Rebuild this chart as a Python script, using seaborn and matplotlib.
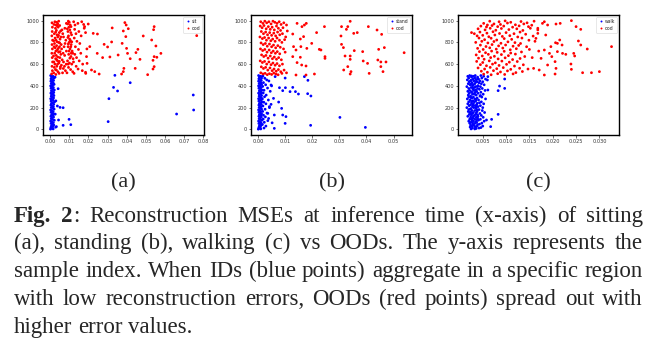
import matplotlib
matplotlib.use("Agg")
import matplotlib.pyplot as plt
import numpy as np
import pandas as pd
import seaborn as sns

# points: (reconstruction MSE x 1e3, sample index)
sit_id = [
    (0.3, 495), (1.5, 488), (0.8, 480), (2.0, 472), (0.5, 465), (1.2, 458), (1.8, 450), (0.4, 443),
    (1.0, 436), (1.6, 428), (0.6, 421), (2.1, 414), (1.3, 407), (0.3, 400), (0.9, 392), (1.7, 385),
    (0.5, 378), (1.4, 370), (2.2, 362), (0.7, 355), (1.1, 348), (1.9, 340), (0.4, 333), (1.5, 326),
    (0.8, 318), (2.0, 311), (0.6, 304), (1.2, 296), (1.8, 289), (0.3, 282), (1.0, 274), (1.6, 267),
    (0.5, 260), (2.3, 252), (1.3, 245), (0.7, 238), (1.9, 230), (0.4, 223), (1.1, 216), (1.7, 208),
    (0.6, 201), (1.4, 194), (2.1, 186), (0.3, 179), (0.9, 172), (1.6, 164), (0.5, 157), (1.2, 150),
    (2.0, 142), (0.8, 135), (1.5, 128), (0.4, 120), (1.8, 113), (1.0, 106), (0.6, 98), (1.3, 91),
    (2.2, 84), (0.3, 76), (0.9, 69), (1.7, 62), (0.5, 54), (1.2, 47), (1.9, 40), (0.7, 32),
    (1.4, 25), (0.4, 18), (1.0, 10), (1.6, 4), (0.2, 2),
    (2.6, 480), (3.0, 262), (2.7, 140), (2.9, 20), (4.2, 374), (3.8, 215), (5.2, 202), (6.8, 199),
    (4.4, 86), (3.3, 25), (9.9, 92), (10.8, 43), (6.8, 37),
    (33.8, 497), (41.8, 429), (33.1, 386), (35.2, 353), (30.7, 282), (30.3, 71), (74.7, 316),
    (74.9, 178), (66.0, 141),
]
sit_ood = [
    (1.0, 980), (1.2, 940), (1.1, 900), (0.9, 860), (1.3, 820), (1.0, 780), (1.2, 740), (0.9, 700),
    (1.1, 660), (1.3, 620), (1.0, 580), (1.2, 540), (0.8, 510),
    (2.5, 990), (3.0, 960), (3.5, 985), (4.0, 970), (4.5, 995), (2.8, 930), (3.3, 910), (4.2, 940),
    (5.0, 955), (2.2, 880), (3.6, 870), (4.8, 890), (5.5, 905), (2.6, 840), (3.1, 820), (4.0, 850),
    (5.2, 830), (2.3, 790), (3.4, 770), (4.5, 800), (5.8, 780), (2.7, 750), (3.8, 730), (4.9, 760),
    (6.0, 740), (2.4, 700), (3.2, 680), (4.4, 710), (5.6, 690), (2.9, 650), (3.9, 630), (5.1, 660),
    (6.3, 640), (2.5, 600), (3.5, 580), (4.6, 610), (5.9, 590), (2.8, 550), (4.1, 530), (5.3, 560),
    (6.5, 520), (3.0, 505), (7.0, 620), (7.5, 580), (8.0, 540), (6.8, 700), (7.3, 760), (8.2, 820),
    (6.6, 880), (7.7, 930), (8.5, 975),
    (2.0, 965), (3.8, 950), (2.9, 895), (4.4, 865), (1.9, 815), (3.7, 805), (5.0, 795), (2.1, 760),
    (4.3, 745), (3.0, 720), (5.2, 715), (1.8, 675), (4.0, 665), (3.4, 640), (4.8, 625), (2.0, 620),
    (3.9, 600), (5.4, 575), (2.2, 570), (3.3, 545), (4.7, 515), (1.9, 520), (5.6, 850), (6.2, 915),
    (7.0, 850), (7.8, 790), (8.5, 720), (7.6, 680), (6.9, 560), (8.4, 600),
    (9.5, 995), (10.0, 985), (10.5, 960), (9.8, 940), (10.3, 915), (9.3, 900), (10.8, 890), (9.6, 860),
    (10.2, 830), (10.6, 810), (9.9, 800), (11.0, 780), (9.4, 760), (10.4, 740), (11.5, 720), (9.7, 690),
    (10.9, 670), (12.0, 650), (9.1, 630), (10.1, 610), (11.3, 600), (9.6, 570), (10.7, 550), (11.8, 530),
    (12.5, 515), (8.8, 520), (9.2, 970), (10.9, 945), (9.0, 925), (11.2, 870), (9.3, 845), (10.5, 820),
    (11.3, 805), (9.5, 785), (10.8, 760), (9.9, 720), (11.0, 700), (10.3, 655), (9.4, 600),
    (12.3, 990), (13.0, 960), (14.5, 975), (16.5, 990), (17.5, 965), (12.8, 920), (13.5, 880), (15.0, 900),
    (16.2, 860), (12.6, 840), (14.0, 810), (15.5, 790), (13.2, 760), (14.8, 735), (16.0, 700), (12.9, 690),
    (13.8, 660), (15.2, 630), (17.0, 600), (13.6, 580), (14.6, 555), (16.8, 540), (18.5, 525), (12.2, 620),
    (11.8, 700), (17.8, 930), (18.5, 890), (19.2, 740),
    (76.5, 862), (54.3, 945), (54.0, 917), (53.0, 822), (55.2, 767), (57.8, 699), (54.3, 669), (55.7, 663),
    (53.7, 635), (54.3, 577), (53.7, 555), (50.9, 503), (46.9, 644), (45.8, 736), (44.8, 706), (44.4, 561),
    (48.6, 859), (39.0, 982), (39.7, 960), (38.2, 905), (40.8, 926), (39.5, 853), (37.6, 791), (39.9, 745),
    (40.4, 699), (41.8, 650), (38.5, 561), (38.2, 531), (37.3, 509), (35.5, 684), (32.4, 933), (32.1, 804),
    (30.0, 758), (28.2, 782), (31.2, 666), (27.4, 660), (25.6, 509), (24.6, 699), (24.7, 877), (22.5, 883),
    (19.9, 969), (18.0, 945), (20.7, 761), (19.0, 669), (21.6, 546), (23.3, 531), (18.6, 515), (19.3, 607),
]

stand_id = [
    (0.2, 495), (1.0, 488), (0.5, 480), (1.3, 472), (0.3, 465), (0.8, 458), (1.2, 450), (0.2, 443),
    (0.7, 436), (1.1, 428), (0.4, 421), (1.3, 414), (0.9, 407), (0.2, 400), (0.6, 392), (1.1, 385),
    (0.3, 378), (0.9, 370), (1.4, 362), (0.5, 355), (0.7, 348), (1.2, 340), (0.2, 333), (1.0, 326),
    (0.5, 318), (1.3, 311), (0.4, 304), (0.8, 296), (1.2, 289), (0.2, 282), (0.7, 274), (1.1, 267),
    (0.3, 260), (1.4, 252), (0.9, 245), (0.5, 238), (1.2, 230), (0.3, 223), (0.7, 216), (1.1, 208),
    (0.4, 201), (0.9, 194), (1.3, 186), (0.2, 179), (0.6, 172), (1.0, 164), (0.3, 157), (0.8, 150),
    (1.3, 142), (0.5, 135), (1.0, 128), (0.3, 120), (1.2, 113), (0.7, 106), (0.4, 98), (0.9, 91),
    (1.4, 84), (0.2, 76), (0.6, 69), (1.1, 62), (0.3, 54), (0.8, 47), (1.2, 40), (0.5, 32),
    (0.9, 25), (0.3, 18), (0.7, 10), (1.0, 4), (0.1, 2),
    (1.8, 490), (2.5, 470), (3.2, 455), (2.0, 430), (4.0, 445), (2.8, 410), (1.7, 395), (3.5, 380),
    (2.2, 360), (4.5, 350), (1.9, 335), (3.0, 315), (2.4, 300), (1.6, 280), (3.8, 270), (2.1, 250),
    (2.9, 235), (1.8, 215), (4.2, 200), (2.6, 185), (1.7, 165), (3.3, 150), (2.0, 130), (2.7, 115),
    (1.9, 95), (3.6, 80), (2.3, 65), (1.6, 45), (2.9, 30), (2.2, 12), (5.0, 400), (4.8, 230),
    (5.2, 60), (3.9, 100),
    (30.2, 110), (39.6, 18), (19.4, 37), (19.5, 307), (18.3, 328), (18.4, 451), (17.1, 485), (14.9, 325),
    (13.8, 347), (12.8, 386), (11.8, 347), (10.0, 472), (10.1, 383), (9.1, 356), (7.9, 383), (8.7, 193),
    (10.0, 55), (9.1, 132), (10.3, 117), (7.6, 251), (6.0, 132), (6.0, 9), (4.2, 209), (3.6, 147),
    (5.7, 285), (4.8, 408), (6.3, 485),
]
stand_ood = [
    (1.0, 990), (1.8, 975), (2.5, 995), (3.2, 980), (4.0, 990), (4.8, 970), (5.5, 995), (6.2, 985),
    (7.0, 975), (7.8, 990), (8.5, 965), (9.5, 980), (10.5, 960),
    (0.8, 950), (1.5, 935), (2.2, 955), (3.0, 925), (3.8, 945), (4.5, 920), (5.2, 940), (6.0, 915),
    (6.8, 950), (7.5, 930), (8.3, 910), (9.2, 935), (10.8, 905),
    (1.2, 900), (2.0, 880), (2.8, 895), (3.5, 870), (4.3, 890), (5.0, 865), (5.8, 885), (6.5, 860),
    (7.2, 895), (8.0, 870), (9.0, 880), (10.2, 850),
    (0.7, 850), (1.6, 835), (2.4, 845), (3.1, 820), (3.9, 840), (4.7, 815), (5.4, 830), (6.3, 810),
    (7.0, 840), (7.9, 820), (8.8, 800), (9.8, 825),
    (1.1, 795), (1.9, 780), (2.7, 790), (3.4, 765), (4.2, 785), (5.0, 760), (5.7, 775), (6.5, 750),
    (7.3, 770), (8.2, 755), (9.4, 740),
    (0.9, 740), (1.7, 725), (2.5, 735), (3.3, 710), (4.1, 730), (4.9, 705), (5.6, 720), (6.4, 700),
    (7.1, 715), (8.0, 695), (10.0, 710),
    (1.3, 685), (2.1, 670), (2.9, 680), (3.7, 655), (4.5, 675), (5.3, 650), (6.0, 665), (6.8, 645),
    (7.6, 660), (8.6, 640),
    (0.8, 630), (1.6, 615), (2.4, 625), (3.2, 600), (4.0, 620), (4.8, 595), (5.5, 610), (6.3, 590),
    (7.0, 605), (7.9, 585), (9.0, 600),
    (1.2, 575), (2.0, 560), (2.8, 570), (3.6, 545), (4.4, 565), (5.2, 540), (5.9, 555), (6.7, 535),
    (7.5, 550), (8.4, 530), (9.6, 545),
    (1.0, 520), (1.8, 510), (2.6, 515), (3.4, 503), (4.2, 512), (5.0, 505), (5.8, 518), (6.6, 508),
    (7.4, 502), (8.8, 515), (10.5, 520),
    (34.0, 994), (30.8, 945), (32.6, 920), (33.1, 945), (35.3, 883), (36.6, 890), (40.7, 945), (43.9, 914),
    (45.6, 874), (44.5, 736), (46.6, 752), (30.6, 859), (30.8, 782), (31.5, 752), (32.1, 675), (34.0, 675),
    (34.0, 644), (35.5, 724), (38.6, 715), (38.8, 629), (40.4, 607), (44.2, 638), (45.3, 620), (47.2, 620),
    (45.3, 577), (46.1, 531), (41.0, 515), (31.6, 546), (33.1, 577), (34.3, 531), (34.0, 509), (53.9, 705),
    (24.5, 945), (24.7, 669), (24.7, 653), (23.2, 730), (22.6, 736), (21.6, 890), (19.8, 791), (18.0, 745),
    (17.8, 975), (17.1, 960), (16.2, 945), (16.8, 853), (15.6, 831), (15.8, 761), (14.0, 730), (14.4, 614),
    (16.1, 592), (15.6, 663), (17.7, 583), (17.7, 500), (20.8, 509), (12.8, 669), (14.0, 500), (13.1, 761),
    (12.8, 877), (14.4, 975),
]

walk_id = [
    (2.2, 495), (3.4, 495), (4.6, 495), (1.8, 488), (3.0, 488), (5.2, 488), (2.6, 480), (3.9, 480),
    (2.0, 472), (3.3, 472), (4.8, 472), (2.9, 462), (4.1, 462), (5.6, 462), (1.7, 455), (3.6, 455),
    (2.4, 446), (3.1, 446), (4.4, 446), (2.1, 438), (3.8, 438), (5.0, 438), (2.7, 428), (4.2, 428),
    (1.9, 420), (3.3, 420), (4.7, 420), (2.3, 410), (3.0, 410), (5.3, 410), (2.8, 402), (4.0, 402),
    (1.6, 393), (3.5, 393), (4.5, 393), (2.5, 385), (3.2, 385), (2.0, 376), (3.9, 376), (4.9, 376),
    (2.9, 368), (4.3, 368), (2.2, 358), (3.1, 358), (5.5, 358), (1.8, 350), (3.7, 350), (2.6, 341),
    (3.4, 341), (4.6, 341), (2.1, 332), (4.0, 332), (2.8, 323), (3.3, 323), (5.1, 323), (1.9, 315),
    (3.6, 315), (2.4, 306), (4.4, 306), (2.0, 297), (3.0, 297), (4.8, 297), (2.7, 288), (3.8, 288),
    (1.7, 280), (3.3, 280), (5.6, 280), (2.3, 270), (4.1, 270), (2.9, 262), (3.5, 262), (2.0, 253),
    (3.2, 253), (4.7, 253), (2.6, 244), (4.3, 244), (1.8, 235), (3.0, 235), (5.2, 235), (2.4, 226),
    (3.7, 226), (2.1, 218), (3.4, 218), (4.5, 218), (2.8, 209), (4.0, 209), (1.6, 200), (3.1, 200),
    (5.0, 200), (2.5, 191), (3.6, 191), (2.0, 182), (4.2, 182), (2.7, 173), (3.3, 173), (4.9, 173),
    (1.9, 164), (3.8, 164), (2.3, 155), (3.0, 155), (5.4, 155), (2.8, 146), (4.4, 146), (2.1, 137),
    (3.5, 137), (2.6, 128), (3.2, 128), (4.7, 128), (1.8, 120), (4.0, 120), (2.4, 111), (3.6, 111),
    (5.1, 111), (2.9, 102), (3.9, 102), (2.2, 93), (3.3, 93), (4.5, 93), (2.7, 84), (4.1, 84),
    (2.0, 75), (3.0, 75), (5.3, 75), (2.5, 66), (3.7, 66), (2.2, 57), (3.4, 57), (4.8, 57),
    (2.9, 48), (4.3, 48), (2.4, 39), (3.1, 39), (2.7, 30), (3.8, 30), (5.0, 30), (2.3, 21),
    (3.5, 21), (2.8, 12), (4.2, 12), (2.5, 4), (3.3, 4),
    (2.6, 491), (3.9, 467), (2.5, 451), (3.5, 433), (2.4, 415), (3.9, 397), (2.9, 381), (3.5, 363),
    (2.6, 346), (3.0, 328), (4.5, 311), (2.5, 292), (3.5, 275), (2.6, 257), (3.8, 239), (2.9, 222),
    (3.6, 205), (2.3, 187), (3.8, 178), (2.4, 160), (3.6, 150), (2.5, 141), (3.9, 133), (3.0, 116),
    (2.6, 97), (3.7, 88), (3.5, 70), (2.8, 62), (3.9, 44), (3.3, 26), (4.6, 16), (3.6, 8),
    (8.3, 356), (8.6, 398), (9.7, 463), (9.7, 377), (8.3, 138), (6.9, 92), (6.7, 25), (6.1, 362),
    (5.8, 86), (6.1, 485), (6.0, 454),
]
walk_ood = [
    (6.5, 995), (8.5, 990), (9.8, 998), (11.0, 985), (13.2, 992), (14.5, 980), (16.0, 995),
    (5.2, 975), (6.0, 960), (7.4, 970), (8.8, 965), (10.3, 978), (12.0, 962), (13.8, 970), (15.5, 958),
    (17.8, 975), (4.6, 950), (5.8, 942), (7.0, 955), (8.2, 945), (9.5, 950), (11.4, 940), (12.8, 952),
    (14.8, 945), (3.2, 880), (2.6, 890), (4.0, 925), (5.5, 915), (6.6, 930), (7.8, 912), (9.0, 928),
    (10.6, 918), (12.3, 925), (13.6, 910), (15.2, 930), (16.8, 915),
    (4.4, 895), (5.9, 885), (7.2, 898), (8.6, 882), (10.0, 890), (11.7, 880), (13.0, 895), (14.2, 875),
    (3.8, 860), (5.0, 865), (6.3, 852), (7.6, 868), (9.2, 855), (10.8, 862), (12.5, 850), (15.8, 858),
    (4.2, 840), (5.4, 825), (6.8, 838), (8.0, 822), (9.6, 835), (11.2, 828), (13.4, 840), (14.9, 820),
    (3.5, 800), (4.8, 810), (6.1, 795), (7.4, 808), (8.9, 792), (10.4, 805), (11.9, 798), (13.1, 790),
    (16.2, 810), (4.5, 775), (5.7, 762), (7.0, 780), (8.4, 768), (9.9, 776), (11.5, 765), (12.7, 772),
    (14.4, 760), (3.9, 745), (5.1, 735), (6.5, 750), (7.9, 738), (9.3, 748), (10.9, 732), (12.2, 742),
    (15.0, 735), (4.3, 715), (5.6, 705), (6.9, 720), (8.1, 708), (9.6, 718), (11.0, 702), (13.3, 712),
    (17.0, 720), (3.6, 685), (4.9, 675), (6.2, 690), (7.5, 672), (9.0, 688), (10.5, 678), (12.0, 692),
    (14.0, 670), (4.1, 655), (5.3, 645), (6.7, 660), (8.3, 648), (9.8, 658), (11.4, 642), (13.0, 652),
    (15.6, 660), (3.7, 625), (5.0, 615), (6.4, 630), (7.7, 612), (9.1, 628), (10.7, 618), (12.4, 624),
    (4.5, 595), (5.8, 585), (7.1, 600), (8.5, 588), (10.1, 598), (11.8, 582), (13.7, 594),
    (4.0, 565), (5.4, 555), (6.6, 570), (8.0, 558), (9.4, 568), (11.0, 552), (12.9, 562), (14.7, 555),
    (4.7, 535), (6.0, 525), (7.3, 540), (8.8, 528), (10.3, 538), (12.1, 522), (13.5, 532),
    (5.2, 508), (6.8, 502), (8.2, 512), (9.7, 505), (11.5, 510),
    (32.6, 761), (30.0, 531), (28.3, 521), (27.4, 739), (26.4, 521), (24.0, 552), (23.9, 601), (24.5, 699),
    (24.7, 675), (22.8, 690), (26.0, 776), (25.5, 813), (26.0, 920), (25.0, 945), (24.0, 1000), (21.6, 975),
    (20.7, 969), (18.9, 960), (18.2, 990), (21.5, 822), (21.0, 791), (20.6, 797), (22.0, 776), (21.0, 715),
    (22.1, 699), (20.5, 623), (20.7, 561), (20.5, 509), (18.2, 500), (18.9, 592), (19.8, 669), (19.3, 699),
    (19.6, 761), (18.2, 730), (17.5, 653), (17.1, 546), (15.9, 561), (18.5, 868), (16.8, 883), (16.4, 837),
    (16.8, 930),
]

panels = [("sit", sit_id, sit_ood), ("stand", stand_id, stand_ood), ("walk", walk_id, walk_ood)]
panel_letters = ["(a)", "(b)", "(c)"]
x_limits = [(-0.0037, 0.0803), (-0.0026, 0.0568), (-0.0003, 0.0342)]
x_ticks = [np.arange(0, 0.081, 0.01), np.arange(0, 0.051, 0.01), np.arange(0.005, 0.031, 0.005)]
y_ticks = [0, 200, 400, 600, 800, 1000]

caption_lines = [
    [[("Fig.", "bold")], [("2", "bold"), (":", "normal")], "Reconstruction", "MSEs", "at", "inference",
     "time", "(x-axis)", "of", "sitting"],
    ["(a),", "standing", "(b),", "walking", "(c)", "vs", "OODs.", "The", "y-axis", "represents", "the"],
    ["sample", "index.", "When", "IDs", "(blue", "points)", "aggregate", "in", "a", "specific", "region"],
    ["with", "low", "reconstruction", "errors,", "OODs", "(red", "points)", "spread", "out", "with"],
    ["higher", "error", "values."],
]

sns.set_style("ticks")
W, H = 672, 353
fig = plt.figure(figsize=(W / 100, H / 100), dpi=100)

lefts = [43, 251, 458]
for i, (name, ids, oods) in enumerate(panels):
    ax = fig.add_axes([lefts[i] / W, 1 - 135 / H, 161 / W, 120 / H])
    a = np.array(ids, dtype=float)
    b = np.array(oods, dtype=float)
    df = pd.DataFrame({
        "mse": np.r_[a[:, 0], b[:, 0]] / 1000,
        "idx": np.r_[a[:, 1], b[:, 1]],
        "cls": [name] * len(a) + ["ood"] * len(b),
    })
    sns.scatterplot(data=df, x="mse", y="idx", hue="cls",
                    palette={name: "blue", "ood": "red"},
                    s=4, linewidth=0, ax=ax)
    ax.set_xlim(*x_limits[i])
    ax.set_ylim(-52, 1052)
    ax.set_xticks(x_ticks[i])
    ax.set_yticks(y_ticks)
    ax.set_xlabel("")
    ax.set_ylabel("")
    ax.tick_params(labelsize=3.6, length=1.8, width=0.5, pad=1, colors="#333333")
    for sp in ax.spines.values():
        sp.set_linewidth(1.0)
        sp.set_color("black")
    sns.move_legend(ax, "upper right", title=None, fontsize=3.3, markerscale=0.7,
                    frameon=True, borderpad=0.4, handletextpad=0.3, labelspacing=0.5,
                    handlelength=1.2, borderaxespad=0.4)
    leg = ax.get_legend()
    leg.get_frame().set_linewidth(0.4)
    fig.text((lefts[i] + 80.5) / W, 1 - 187 / H, panel_letters[i], ha="center", va="baseline",
             fontsize=16, family="Liberation Serif")

# justified caption
fig.canvas.draw()
renderer = fig.canvas.get_renderer()
cap_size = 16.5
x0, x1 = 14, 643
baselines = [222, 249, 277, 305, 333]


def chunks(word):
    return [(word, "normal")] if isinstance(word, str) else word


def text_width(s, weight):
    t = fig.text(0, 0, s, fontsize=cap_size, family="Liberation Serif", weight=weight)
    w = t.get_window_extent(renderer).width
    t.remove()
    return w


for li, line in enumerate(caption_lines):
    widths = [sum(text_width(s, wt) for s, wt in chunks(w)) for w in line]
    if li < len(caption_lines) - 1:
        gap = (x1 - x0 - sum(widths)) / (len(line) - 1)
    else:
        gap = text_width("a a", "normal") - 2 * text_width("a", "normal")
    x = x0
    for w, wd in zip(line, widths):
        cx = x
        for s, wt in chunks(w):
            fig.text(cx / W, 1 - baselines[li] / H, s, fontsize=cap_size,
                     family="Liberation Serif", weight=wt, va="baseline", ha="left")
            cx += text_width(s, wt)
        x += wd + gap

fig.savefig("out.png", dpi=100)
